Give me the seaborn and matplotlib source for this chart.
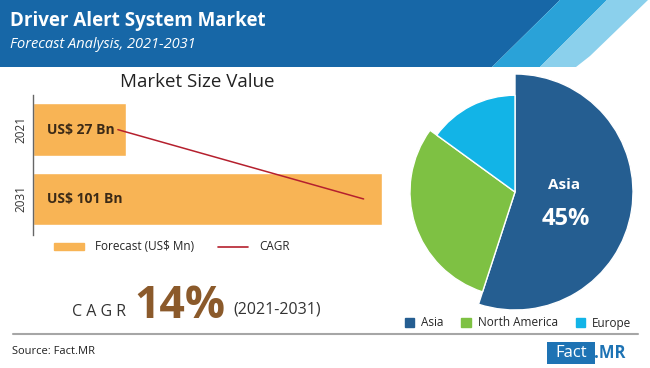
import matplotlib
matplotlib.use("Agg")
import matplotlib.pyplot as plt
from matplotlib.patches import Polygon, Patch, Rectangle
from matplotlib.lines import Line2D
import seaborn as sns
import pandas as pd

# data
years = ["2021", "2031"]
market_value = [27, 101]          # US$ Bn
value_labels = ["US$ 27 Bn", "US$ 101 Bn"]
regions = ["Asia", "North America", "Europe"]
region_share = [55, 30, 15]       # wedge sizes as drawn
region_radius = [1.0, 0.89, 0.82]
cagr_text = "14%"

sns.set_theme(style="white")
plt.rcParams['font.family'] = ['Open Sans', 'DejaVu Sans']

W, H = 650, 368
fig = plt.figure(figsize=(6.5, 3.68), dpi=100)

def box(x0, y0, x1, y1):
    # pixel box -> figure fraction rect
    return [x0 / W, 1 - y1 / H, (x1 - x0) / W, (y1 - y0) / H]

# background / annotation layer
bg = fig.add_axes([0, 0, 1, 1])
bg.set_xlim(0, W)
bg.set_ylim(H, 0)
bg.axis("off")
bg.add_patch(Polygon([(0, 0), (560, 0), (492, 67), (0, 67)], color="#1767a7", lw=0))
bg.add_patch(Polygon([(560, 0), (607, 0), (540, 67), (492, 67)], color="#2aa2d8", lw=0))
bg.add_patch(Polygon([(607, 0), (648, 0), (590, 56), (576, 67), (540, 67)], color="#8bd0ec", lw=0))
bg.text(10, 21, "Driver Alert System Market", color="white", fontsize=13.5,
        fontweight="bold", va="center", ha="left")
bg.text(10, 45, "Forecast Analysis, 2021-2031", color="white", fontsize=10.5,
        style="italic", va="center", ha="left")
bg.text(197, 82, "Market Size Value", fontsize=13.5, color="#222222", ha="center", va="center")

# CAGR block
bg.text(126, 312, "C A G R", fontsize=11.5, color="#333333", ha="right", va="center")
bg.text(180, 307, cagr_text, fontsize=32, color="#8b5a2b", fontweight="bold",
        ha="center", va="center")
bg.text(233, 310, "(2021-2031)", fontsize=11.5, color="#333333", ha="left", va="center")
bg.plot([13, 638], [334, 334], color="#a6a6a6", lw=1.5)
bg.text(12, 352, "Source: Fact.MR", fontsize=8, color="#222222", ha="left", va="center")

# Fact.MR logo
bg.add_patch(Rectangle((547, 342), 48, 22, color="#1e73b4", lw=0))
bg.text(571, 353, "Fact", color="white", fontsize=12, ha="center", va="center")
bg.text(594, 353, ".MR", color="#1e73b4", fontsize=12, fontweight="bold",
        ha="left", va="center")

# bar chart
ax = fig.add_axes(box(33, 95, 385, 235))
ax.set_facecolor("none")
df = pd.DataFrame({"year": years, "value": market_value})
sns.barplot(data=df, x="value", y="year", orient="h", color="#f8b455",
            width=0.76, saturation=1, ax=ax)
ax.set_xlim(0, 102)
ax.set_ylim(1.52, -0.5)
cagr_df = pd.DataFrame({"x": [market_value[0] - 2.4, market_value[1] - 5.2],
                        "y": [0, 1]})
sns.lineplot(data=cagr_df, x="x", y="y", color="#b5202e", lw=1.1, ax=ax)
for i, lab in enumerate(value_labels):
    ax.text(4, i, lab, fontsize=10, fontweight="bold", color="#3b2a17",
            ha="left", va="center")
ax.set_xlabel("")
ax.set_ylabel("")
ax.set_xticks([])
ax.tick_params(axis="y", length=0, pad=4, labelsize=8.5, labelcolor="#333333")
for t in ax.get_yticklabels():
    t.set_rotation(90)
    t.set_va("center")
sns.despine(ax=ax, top=True, right=True, bottom=True)
ax.spines["left"].set_color("#666666")
ax.spines["left"].set_linewidth(1)

handles = [Patch(color="#f8b455", label="Forecast (US$ Mn)"),
           Line2D([], [], color="#b5202e", lw=1.2, label="CAGR")]
fig.legend(handles=handles, loc="center left", bbox_to_anchor=(43 / W, 1 - 247 / H),
           ncol=2, frameon=False, fontsize=8.5, handlelength=2.6, handleheight=0.5,
           columnspacing=2.0, handletextpad=0.9)

# pie chart
pax = fig.add_axes(box(397, 74, 633, 310))
pax.set_facecolor("none")
pie_colors = ["#255e91", "#7ec143", "#12b4e7"]
wedges, _ = pax.pie(region_share, colors=pie_colors, startangle=90, counterclock=False,
                    wedgeprops=dict(edgecolor="white", linewidth=1))
for w, r in zip(wedges, region_radius):
    w.set_radius(r)
pax.set_xlim(-1, 1)
pax.set_ylim(-1, 1)
pax.set_aspect("equal")
pax.text(0.42, 0.06, "Asia", color="white", fontsize=11, fontweight="bold",
         ha="center", va="center")
pax.text(0.43, -0.23, "45%", color="white", fontsize=17, fontweight="bold",
         ha="center", va="center")

phandles = [Patch(color=c, label=l) for c, l in zip(pie_colors, regions)]
fig.legend(handles=phandles, loc="center left", bbox_to_anchor=(394 / W, 1 - 323 / H),
           ncol=3, frameon=False, fontsize=8.5, handlelength=0.8, handleheight=0.8,
           columnspacing=1.5, handletextpad=0.6)

fig.savefig("out.png", dpi=100)
